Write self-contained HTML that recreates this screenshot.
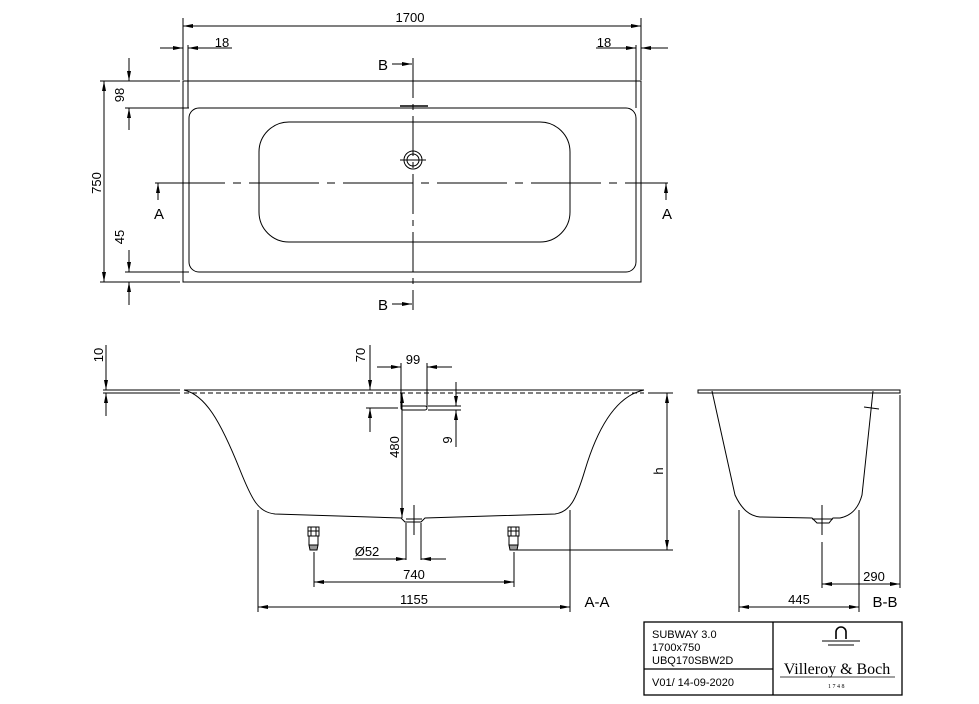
<!DOCTYPE html>
<html><head><meta charset="utf-8"><style>
html,body{margin:0;padding:0;background:#fff;}
svg{display:block;}
text{font-family:"Liberation Sans",sans-serif;fill:#000;}
.d{font-size:13px;}
</style></head><body>
<svg width="979" height="704" viewBox="0 0 979 704" xmlns="http://www.w3.org/2000/svg">
<defs>
<marker id="a" viewBox="0 0 10 4" refX="10" refY="2" markerWidth="10" markerHeight="4" markerUnits="userSpaceOnUse" orient="auto-start-reverse"><path d="M0,0L10,2L0,4z" fill="#000"/></marker>
</defs>
<g stroke="#000" stroke-width="1" fill="none">
<!-- TOP VIEW -->
<rect x="183" y="81" width="458" height="201"/>
<rect x="189" y="108" width="447" height="164" rx="10"/>
<rect x="259" y="122" width="311" height="120" rx="30"/>
<line x1="155" y1="183" x2="668" y2="183" stroke-dasharray="70,8,8,8"/>
<line x1="413" y1="58" x2="413" y2="310" stroke-dasharray="40,6,6,6"/>
<circle cx="413" cy="160" r="9"/><circle cx="413" cy="160" r="6"/>
<line x1="400" y1="160" x2="426" y2="160"/>
<line x1="400" y1="106" x2="428" y2="106" stroke-width="1.5"/>
<!-- 1700 -->
<line x1="183" y1="18" x2="183" y2="80"/><line x1="641" y1="18" x2="641" y2="80"/>
<line x1="183" y1="26" x2="641" y2="26" marker-start="url(#a)" marker-end="url(#a)"/>
<!-- 18s -->
<line x1="188" y1="45" x2="188" y2="108"/><line x1="636" y1="45" x2="636" y2="108"/>
<line x1="160" y1="48" x2="183" y2="48" marker-end="url(#a)"/>
<line x1="232" y1="48" x2="188" y2="48" marker-end="url(#a)"/>
<line x1="596" y1="48" x2="636" y2="48" marker-end="url(#a)"/>
<line x1="668" y1="48" x2="641" y2="48" marker-end="url(#a)"/>
<!-- left dims -->
<line x1="100" y1="81" x2="180" y2="81"/><line x1="100" y1="282" x2="180" y2="282"/>
<line x1="125" y1="108" x2="189" y2="108"/><line x1="125" y1="272" x2="189" y2="272"/>
<line x1="104" y1="81" x2="104" y2="282" marker-start="url(#a)" marker-end="url(#a)"/>
<line x1="129" y1="58" x2="129" y2="81" marker-end="url(#a)"/>
<line x1="129" y1="130" x2="129" y2="108" marker-end="url(#a)"/>
<line x1="129" y1="250" x2="129" y2="272" marker-end="url(#a)"/>
<line x1="129" y1="305" x2="129" y2="282" marker-end="url(#a)"/>
<!-- section arrows -->
<line x1="392" y1="64" x2="412" y2="64" marker-end="url(#a)"/>
<line x1="392" y1="304" x2="412" y2="304" marker-end="url(#a)"/>
<line x1="158" y1="200" x2="158" y2="183" marker-end="url(#a)"/>
<line x1="666" y1="200" x2="666" y2="183" marker-end="url(#a)"/>

<!-- SECTION A-A -->
<line x1="103" y1="390" x2="180" y2="390"/><line x1="103" y1="393" x2="180" y2="393"/>
<line x1="184" y1="390" x2="644" y2="390"/>
<line x1="184" y1="393" x2="644" y2="393" stroke-dasharray="5,3"/>
<path d="M184,390 C205,395 220,420 240,470 C252,500 258,512 275,514 L401,518 L405,522 L421,522 L425,518 L555,514 C570,512 576,500 585,470 C600,420 620,395 644,390"/>
<line x1="106" y1="345" x2="106" y2="390" marker-end="url(#a)"/>
<line x1="106" y1="416" x2="106" y2="393" marker-end="url(#a)"/>
<!-- feet -->
<g><rect x="308" y="527" width="11" height="9"/><rect x="309" y="536" width="9" height="9"/><path d="M309,545 L318,545 L317,550 L310,550z" fill="#999"/>
<line x1="308" y1="531" x2="319" y2="531"/><line x1="311" y1="527" x2="311" y2="536"/><line x1="316" y1="527" x2="316" y2="536"/></g>
<g><rect x="508" y="527" width="11" height="9"/><rect x="509" y="536" width="9" height="9"/><path d="M509,545 L518,545 L517,550 L510,550z" fill="#999"/>
<line x1="508" y1="531" x2="519" y2="531"/><line x1="511" y1="527" x2="511" y2="536"/><line x1="516" y1="527" x2="516" y2="536"/></g>
<!-- 1155 / 740 -->
<line x1="258" y1="510" x2="258" y2="612"/><line x1="570" y1="510" x2="570" y2="612"/>
<line x1="258" y1="607" x2="570" y2="607" marker-start="url(#a)" marker-end="url(#a)"/>
<line x1="314" y1="552" x2="314" y2="587"/><line x1="514" y1="552" x2="514" y2="587"/>
<line x1="314" y1="582" x2="514" y2="582" marker-start="url(#a)" marker-end="url(#a)"/>
<!-- h -->
<line x1="648" y1="393" x2="673" y2="393"/><line x1="517" y1="550" x2="673" y2="550"/>
<line x1="667" y1="393" x2="667" y2="550" marker-start="url(#a)" marker-end="url(#a)"/>
<!-- 70 / 99 / 9 / 480 -->
<line x1="366" y1="408" x2="398" y2="408"/>
<line x1="370" y1="345" x2="370" y2="390" marker-end="url(#a)"/>
<line x1="370" y1="432" x2="370" y2="408" marker-end="url(#a)"/>
<line x1="401" y1="363" x2="401" y2="407"/><line x1="427" y1="363" x2="427" y2="407"/>
<line x1="377" y1="367" x2="401" y2="367" marker-end="url(#a)"/>
<line x1="452" y1="367" x2="427" y2="367" marker-end="url(#a)"/>
<rect x="401" y="406" width="26" height="4" rx="2"/>
<line x1="428" y1="406" x2="461" y2="406"/><line x1="428" y1="410" x2="461" y2="410"/>
<line x1="456" y1="382" x2="456" y2="406" marker-end="url(#a)"/>
<line x1="456" y1="447" x2="456" y2="410" marker-end="url(#a)"/>
<line x1="402" y1="393" x2="402" y2="518" marker-start="url(#a)" marker-end="url(#a)"/>
<!-- drain -->
<line x1="414" y1="505" x2="414" y2="535"/><line x1="406" y1="519" x2="422" y2="519"/>
<line x1="406" y1="523" x2="406" y2="560"/><line x1="421" y1="523" x2="421" y2="560"/>
<line x1="353" y1="559" x2="406" y2="559" marker-end="url(#a)"/>
<line x1="446" y1="559" x2="421" y2="559" marker-end="url(#a)"/>

<!-- SECTION B-B -->
<rect x="698" y="390" width="202" height="3"/>
<line x1="712" y1="393" x2="873" y2="393" stroke-dasharray="5,3"/>
<path d="M712,391 L735,495 C742,510 750,516 760,517 L812,518 L817,523 L829,523 L833,518 L840,518 C850,516 858,510 862,495 L873,391"/>
<line x1="864" y1="407" x2="879" y2="409"/>
<line x1="822" y1="505" x2="822" y2="535"/><line x1="812" y1="519" x2="833" y2="519"/>
<line x1="822" y1="542" x2="822" y2="588"/>
<line x1="739" y1="510" x2="739" y2="612"/><line x1="859" y1="510" x2="859" y2="612"/>
<line x1="739" y1="607" x2="859" y2="607" marker-start="url(#a)" marker-end="url(#a)"/>
<line x1="900" y1="395" x2="900" y2="588"/>
<line x1="822" y1="584" x2="900" y2="584" marker-start="url(#a)" marker-end="url(#a)"/>

<!-- TITLE BLOCK -->
<rect x="644" y="622" width="258" height="73" stroke-width="1.3"/>
<line x1="773" y1="622" x2="773" y2="695" stroke-width="1.3"/>
<line x1="644" y1="669" x2="773" y2="669" stroke-width="1.3"/>
<path d="M836,639 L836,632 A5,5 0 0 1 846,632 L846,639" stroke-width="1.6"/>
<line x1="822" y1="641" x2="860" y2="641"/>
<line x1="828" y1="645" x2="854" y2="645"/>
<line x1="780" y1="677" x2="895" y2="677" stroke-width="0.7"/>
</g>
<g class="d">
<text x="410" y="22" text-anchor="middle">1700</text>
<text x="222" y="47" text-anchor="middle">18</text>
<text x="604" y="47" text-anchor="middle">18</text>
<text x="383" y="70" text-anchor="middle" font-size="15">B</text>
<text x="383" y="310" text-anchor="middle" font-size="15">B</text>
<text x="159" y="219" text-anchor="middle" font-size="15">A</text>
<text x="667" y="219" text-anchor="middle" font-size="15">A</text>
<text transform="translate(124,95) rotate(-90)" text-anchor="middle">98</text>
<text transform="translate(101,183) rotate(-90)" text-anchor="middle">750</text>
<text transform="translate(124,237) rotate(-90)" text-anchor="middle">45</text>
<text transform="translate(103,355) rotate(-90)" text-anchor="middle">10</text>
<text transform="translate(365,355) rotate(-90)" text-anchor="middle">70</text>
<text x="413" y="364" text-anchor="middle">99</text>
<text transform="translate(452,440) rotate(-90)" text-anchor="middle">9</text>
<text transform="translate(399,447) rotate(-90)" text-anchor="middle">480</text>
<text transform="translate(663,471) rotate(-90)" text-anchor="middle">h</text>
<text x="367" y="556" text-anchor="middle">Ø52</text>
<text x="414" y="579" text-anchor="middle">740</text>
<text x="414" y="604" text-anchor="middle">1155</text>
<text x="597" y="607" text-anchor="middle" font-size="15">A-A</text>
<text x="799" y="604" text-anchor="middle">445</text>
<text x="874" y="581" text-anchor="middle">290</text>
<text x="885" y="607" text-anchor="middle" font-size="15">B-B</text>
</g>
<g font-size="11">
<text x="652" y="638">SUBWAY 3.0</text>
<text x="652" y="651">1700x750</text>
<text x="652" y="664">UBQ170SBW2D</text>
<text x="652" y="686">V01/ 14-09-2020</text>
</g>
<text x="837" y="674" text-anchor="middle" style="font-family:'Liberation Serif',serif;font-size:16px;">Villeroy &amp; Boch</text>
<text x="837" y="688" text-anchor="middle" style="font-family:'Liberation Serif',serif;font-size:6px;letter-spacing:1.5px;">1748</text>
</svg>
</body></html>
